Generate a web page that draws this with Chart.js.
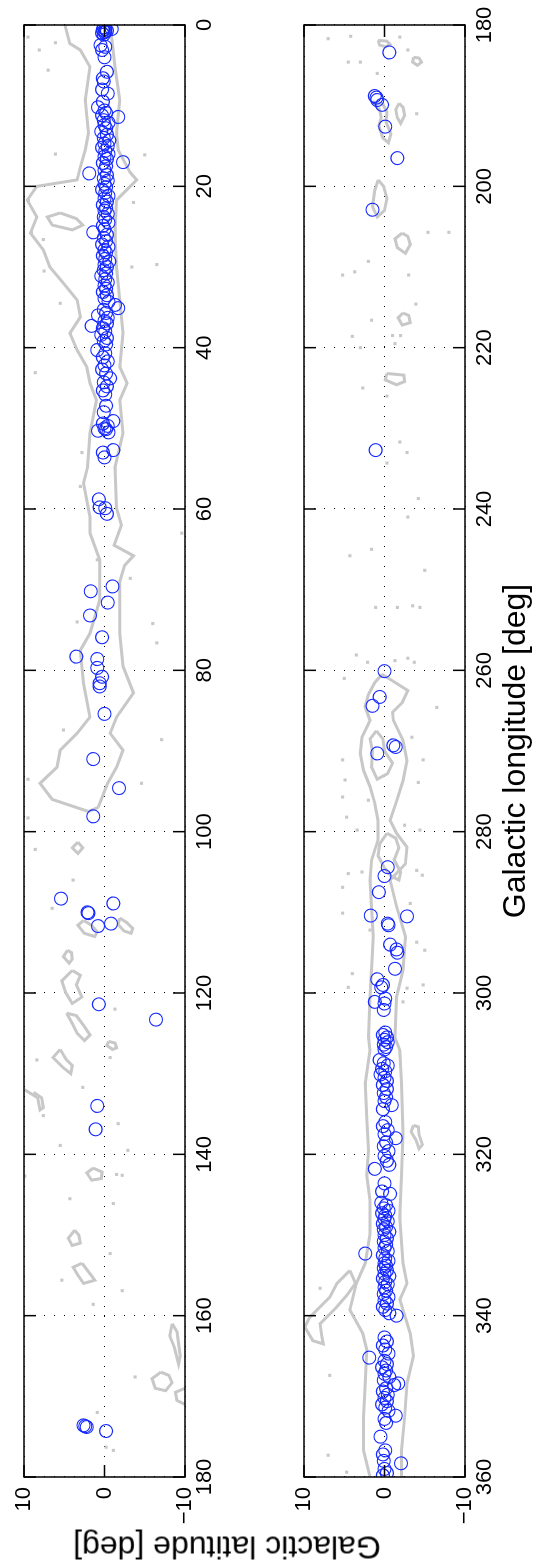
<!DOCTYPE html>
<html>
<head>
<meta charset="utf-8">
<script src="https://cdn.jsdelivr.net/npm/chart.js@4.4.1/dist/chart.umd.min.js"></script>
<style>
  html, body { margin: 0; padding: 0; background: #fff; overflow: hidden; width: 549px; height: 1567px; }
  #page {
    position: absolute; left: 0; top: 0; width: 1567px; height: 549px;
    transform-origin: 0 0; transform: translate(0, 1567px) rotate(-90deg);
    font-family: "Liberation Sans", Arial, Helvetica, sans-serif;
  }
  #box1 { position: absolute; left: 0; top: 0; }
  #box2 { position: absolute; left: 0; top: 250px; }
  #ylab {
    position: absolute; left: 20px; top: 227px; white-space: nowrap;
    font-size: 32px; color: #000;
    transform: translate(-50%, -50%) rotate(-90deg);
  }
</style>
</head>
<body>
<div id="page">
  <canvas id="box1" width="1567" height="250"></canvas>
  <canvas id="box2" width="1567" height="299"></canvas>
  <div id="ylab">Galactic latitude [deg]</div>
</div>
<script>
// tick labels
const latTicks = [-10, 0, 10];
const lonTicksA = [0, 20, 40, 60, 80, 100, 120, 140, 160, 180];
const lonTicksB = [180, 200, 220, 240, 260, 280, 300, 320, 340, 360];

// blue circles, [longitude, latitude]
const clumpsA = [
  [0.3,0.1],[0.5,-0.1],[0.6,0.2],[0.7,-0.3],[0.9,0.0],[0.5,-0.9],[1.0,0.3],[0.8,-0.1],[1.2,0.1],
  [2.5,0.5],[2.7,-0.1],[3.1,0.3],[4.0,0.0],[5.8,-0.3],[6.6,0.2],[7.0,0.1],[8.0,0.3],[8.5,-0.4],
  [9.5,0.2],[10.2,0.8],[10.6,0.0],[10.9,-0.2],[11.2,0.3],[11.4,-1.7],[11.8,0.1],[12.1,-0.5],
  [12.4,0.0],[12.8,-0.2],[13.2,0.4],[13.6,-0.3],[14.0,0.1],[14.3,-0.6],[14.7,0.0],[15.0,-0.4],
  [15.2,0.3],[15.6,-0.1],[16.0,-0.5],[16.3,0.0],[16.6,-0.3],[17.0,-2.3],[17.1,0.2],[17.5,-0.2],
  [18.0,0.0],[18.4,1.9],[18.6,-0.3],[19.0,0.1],[19.3,-0.4],[19.7,0.0],[20.1,-0.2],[20.4,0.3],
  [20.8,-0.1],[21.2,-0.5],[21.5,0.0],[21.9,-0.3],[22.3,0.2],[22.7,-0.2],[23.0,0.0],[23.4,-0.4],
  [23.8,0.1],[24.1,-0.1],[24.5,-0.5],[24.9,0.2],[25.3,0.0],[25.7,1.4],[26.0,-0.3],[26.4,0.1],
  [26.8,-0.2],[27.2,0.3],[27.5,-0.5],[27.9,0.0],[28.2,-0.2],[28.6,0.2],[29.0,-0.1],[29.3,-0.6],
  [29.7,0.0],[30.0,-0.3],[30.4,0.1],[30.8,-0.2],[31.1,0.4],[31.5,-0.1],[31.9,-0.4],[32.3,0.0],
  [32.7,-0.2],[33.1,0.2],[33.5,-0.3],[33.9,0.0],[34.3,-0.5],[34.7,-1.3],[35.1,-1.7],[35.3,0.1],
  [35.7,-0.2],[36.0,0.8],[36.3,-0.4],[36.7,0.0],[37.0,-0.3],[37.3,1.6],[37.6,0.2],[38.0,-0.1],
  [38.4,0.4],[38.8,-0.3],[39.2,0.1],[39.6,-0.2],[40.3,0.9],[40.7,-0.1],[41.2,0.2],[41.7,-0.4],
  [42.2,0.0],[42.7,0.3],[43.2,-0.2],[43.8,-0.7],[44.3,0.1],[44.8,-0.3],[45.3,0.2],[45.8,-0.1],
  [47.2,-0.2],[48.0,0.1],[49.1,-1.1],[49.4,0.2],[49.7,-0.4],[50.0,0.0],[50.3,0.8],[50.5,-0.5],
  [50.1,-0.2],[52.7,-1.1],[53.0,0.2],[53.6,0.0],[58.8,0.7],[59.8,0.6],[59.9,-0.1],[60.6,-0.3],
  [69.6,-1.0],[70.2,1.7],[71.6,-0.4],[73.2,1.8],[75.9,0.3],[78.3,3.5],[78.6,0.9],[79.7,0.9],
  [80.8,0.3],[81.6,0.6],[82.0,0.6],[85.4,0.0],[91.0,1.4],[94.6,-1.8],[98.1,1.4],[108.3,5.4],
  [108.9,-1.1],[110.0,2.1],[110.1,2.0],[111.7,0.8],[111.4,-0.8],[121.4,0.7],[123.3,-6.4],
  [134.0,0.9],[136.9,1.1],[173.6,2.6],[173.7,2.4],[173.8,2.2],[174.3,-0.2]
];
const clumpsB = [
  [183.4,-0.6],[188.8,1.2],[189.0,1.0],[189.3,0.9],[189.9,0.3],[192.6,-0.1],[196.5,-1.6],
  [202.9,1.5],[232.7,1.1],[260.1,0.0],[263.3,0.6],[264.4,1.5],[269.3,-1.1],[269.5,-1.4],
  [270.3,0.9],[284.4,-0.4],[285.5,0.0],[287.5,0.7],[290.4,1.7],[290.5,-2.8],[291.4,-0.4],
  [291.6,-0.5],[294.0,-0.7],[294.6,-1.5],[295.0,-1.6],[297.0,-1.3],[298.3,0.9],[299.0,0.2],
  [299.3,0.4],[301.1,1.2],[300.7,-0.1],[301.3,0.0],[302.1,0.1],
  [304.9,-0.1],[305.2,0.2],[305.5,-0.3],[305.8,0.0],[306.1,-0.4],[306.4,0.1],[306.7,-0.2],[307.0,0.0],
  [308.3,0.6],[308.7,0.1],[309.0,-0.4],[309.4,0.3],[309.7,-0.1],[310.1,0.5],[310.5,0.0],[310.9,-0.3],
  [311.4,0.2],[311.9,-0.3],[312.4,0.1],[312.9,-0.2],[313.4,0.0],[313.9,-0.9],[314.4,0.2],
  [316.0,-0.1],[316.5,0.2],[317.0,-0.4],[317.5,0.0],[318.0,-1.4],[318.5,-0.2],[319.0,0.1],
  [319.6,-0.5],[320.2,0.0],[320.8,-0.3],[321.3,-0.6],[321.8,1.2],[323.6,0.0],[324.6,0.3],[324.9,-0.7],
  [326.0,0.4],[326.3,-0.2],[326.7,0.1],[327.0,-0.5],[327.3,0.3],[327.6,-0.1],[328.0,0.0],
  [328.3,-0.4],[328.6,0.2],[329.0,-0.2],[329.3,0.1],[329.6,-0.6],[330.0,0.0],
  [330.4,-0.3],[330.8,0.1],[331.2,-0.2],[331.6,0.0],[332.0,-0.4],[332.3,2.4],[332.5,0.2],
  [332.9,-0.1],[333.2,-0.5],[333.5,0.0],[333.8,-0.2],[334.1,0.1],[334.4,-0.3],[334.8,0.0],
  [335.1,-0.6],[335.4,0.2],[335.8,-0.1],[336.1,-0.4],[336.5,0.0],[336.9,-0.2],[337.3,0.1],
  [337.7,-0.5],[338.1,0.0],[338.5,-0.3],[338.9,0.2],[339.3,-0.1],[339.7,-0.6],[340.0,-1.5],
  [342.7,0.0],[343.2,-0.3],[343.7,0.2],[344.2,-0.1],[344.7,-0.5],[345.2,1.9],[345.6,0.0],
  [346.0,-0.3],[346.4,0.3],[346.8,-0.2],[347.2,0.0],[347.6,-0.6],[348.0,0.1],[348.4,-1.7],
  [348.6,-1.2],[349.0,-0.2],[349.4,0.2],[349.8,-0.4],[350.2,0.0],[350.6,-0.3],[351.0,0.3],
  [351.4,-0.1],[351.8,-0.5],[352.4,-1.4],[352.8,0.0],[353.3,-0.2],[355.0,0.5],[356.7,-0.1],
  [357.2,0.2],[358.0,0.1],[358.3,-2.05],[359.0,0.0],[359.5,-0.3],[359.8,0.2]
];

// small grey specks
const specksA = [
  [1.5,9.5],[2.2,6.1],[3.1,8.1],[5.6,7.0],[16.0,6.1],[16.1,-5.0],[29.7,-6.5],[30.0,-3.4],
  [26.6,7.6],[30.5,7.5],[34.5,5.5],[43.1,8.6],[22.0,-3.6],[53.0,2.8],[57.2,3.0],[63.0,-9.6],
  [66.3,0.9],[68.6,-3.2],[74.0,3.4],[74.2,-6.0],[76.6,-6.5],[87.4,5.1],[88.6,-7.1],[93.5,9.5],
  [94.0,-4.6],[98.3,9.5],[102.2,8.6],[106.0,3.9],[109.5,6.5],[122.0,-1.3],[128.0,-0.7],
  [128.3,8.4],[131.7,2.7],[136.2,-1.7],[135.2,7.6],[138.9,5.5],[139.5,-2.9],[142.6,-2.2],
  [145.5,4.3],[146.1,-1.1],[152.3,-0.7],[155.6,5.3],[156.9,-2.2],[158.6,1.4],[167.6,-3.8],
  [172.0,0.9],[176.3,-0.2],[176.7,-1.1],[142.5,-1.5],[142.7,9.9]
];
const specksB = [
  [181.7,7.0],[181.4,4.2],[181.5,-1.9],[183.1,-2.9],[184.6,4.5],[184.6,3.0],[186.0,0.9],
  [191.0,-4.0],[205.7,-8.0],[205.7,-5.4],[209.3,2.0],[210.6,3.7],[211.0,5.2],[211.0,-3.0],
  [214.6,-3.9],[216.6,1.6],[218.6,4.0],[218.5,-1.0],[218.5,-2.0],[219.5,-1.3],[220.0,3.0],
  [225.0,2.7],[226.0,-0.3],[231.7,-1.9],[233.0,-2.8],[234.3,-0.3],[238.7,-4.2],[241.0,-2.9],
  [245.0,1.6],[245.8,4.3],[247.6,-5.0],[252.2,1.1],[252.2,-1.6],[252.2,-4.4],[252.0,-3.5],
  [258.5,-2.9],[259.0,-3.7],[258.8,-1.3],[259.0,2.1],[258.1,3.5],[261.0,5.0],[264.6,-6.5],
  [271.1,5.2],[273.6,4.9],[275.7,5.2],[278.2,4.7],[279.8,3.4],[276.1,2.0],[279.2,-2.5],
  [279.8,-4.4],[271.1,-4.8],[273.9,-4.2],[268.3,-3.4],[286.9,5.2],[290.1,5.2],[285.2,4.5],
  [285.0,2.8],[292.2,1.8],[284.8,-4.0],[285.4,-4.7],[288.9,-3.2],[294.7,-5.0],[293.7,-4.0],
  [297.6,4.0],[299.3,4.5],[299.4,-2.8],[299.0,-4.8],[301.1,-2.3],[336.6,8.0],[347.4,6.8],
  [357.3,7.0],[359.4,4.7]
];

// grey contour lines, [longitude, latitude]
const edgeUpA = [
  [0,4.9],[2.3,4.3],[3.1,3.0],[5.2,1.8],[9.3,2.4],[13.4,2.0],[15.5,2.4],[17.6,3.0],[19.2,3.4],
  [20.0,8.4],[21.7,9.6],[23.8,8.4],[25.8,9.2],[27.9,7.6],[30.0,6.8],[32.0,5.1],[34.1,3.4],
  [36.2,3.0],[38.2,4.3],[40.3,3.4],[42.4,2.2],[44.4,1.8],[46.5,1.0],[50.6,1.8],[54.8,2.1],
  [56.8,2.6],[61.0,1.8],[63.0,1.8],[66.3,0.6],[71.3,0.6],[75.4,1.8],[77.5,3.0],[81.6,2.6],
  [85.8,1.8],[87.8,3.4],[89.9,5.5],[92.0,5.9],[94.0,8.0],[96.0,6.5],[97.5,2.0],[97.0,0.8]
];
const edgeLowA = [
  [0,-0.7],[5.2,-1.3],[9.3,-1.9],[13.4,-1.5],[15.5,-1.7],[18.3,-3.2],[19.2,-4.0],[20.2,-3.0],
  [21.7,-1.5],[25.8,-1.3],[30.0,-1.5],[34.1,-1.9],[38.2,-2.3],[42.4,-1.9],[44.4,-2.8],[46.5,-1.9],
  [50.6,-2.3],[54.8,-1.3],[59.9,-1.5],[62.0,-2.1],[64.5,-1.2],[65.8,-3.6],[67.0,-2.5],[69.0,-1.9],
  [75.4,-1.9],[79.5,-2.3],[82.8,-3.6],[85.8,-1.5],[87.8,-0.7],[89.9,-2.3],[92.0,-1.5],[94.0,-0.4],
  [97.0,0.8]
];
const blobsA = [
  [[23.3,5.5],[23.8,7.1],[24.8,6.5],[25.4,4.0],[24.8,2.7],[24.0,3.5],[23.3,5.5]],
  [[101.3,3.3],[102.0,4.0],[102.7,3.3],[102.0,2.7],[101.3,3.3]],
  [[110.7,-1.9],[111.5,-1.7],[112.3,-2.4],[112.6,-3.3],[112.0,-3.5],[111.3,-2.8],[110.7,-1.9]],
  [[111.0,2.6],[111.6,3.3],[112.6,2.5],[113.0,1.2],[112.4,0.9],[111.6,1.6],[111.0,2.6]],
  [[114.7,4.6],[115.5,5.1],[116.3,4.4],[115.8,4.0],[115.0,4.1],[114.7,4.6]],
  [[117.2,4.0],[118.5,5.3],[120.0,4.8],[121.3,4.0],[120.5,2.8],[119.0,3.5],[117.8,3.0],[117.2,4.0]],
  [[122.5,4.7],[123.8,4.0],[125.0,3.4],[125.9,2.5],[125.2,1.8],[124.0,2.6],[122.8,3.5],[122.5,4.7]],
  [[127.0,5.5],[128.0,6.4],[129.2,5.2],[130.0,4.2],[129.0,4.0],[128.2,4.8],[127.0,5.5]],
  [[132.0,9.9],[133.0,8.3],[134.5,8.0],[134.2,7.6],[133.0,7.8],[132.3,8.8]],
  [[126.0,-0.5],[126.5,-0.3],[127.0,-1.0],[126.8,-1.5],[126.2,-1.3],[126.0,-0.5]],
  [[141.7,1.4],[142.3,2.2],[143.2,1.6],[143.0,0.4],[142.2,0.3],[141.7,1.4]],
  [[149.4,3.7],[150.4,4.5],[151.3,4.0],[151.0,3.0],[150.0,3.2],[149.4,3.7]],
  [[153.5,2.8],[154.0,3.9],[155.0,3.3],[156.0,2.6],[155.6,1.2],[154.8,1.8],[153.5,2.8]],
  [[167.0,-7.0],[167.8,-5.9],[169.0,-6.3],[169.3,-7.6],[168.3,-8.4],[167.4,-8.0],[167.0,-7.0]],
  [[161.0,-8.4],[162.5,-8.1],[164.0,-8.7],[166.0,-9.2],[165.0,-9.4],[162.0,-9.0],[161.0,-8.4]],
  [[169.0,-10],[169.5,-8.8],[170.5,-9.0],[171.0,-10]]
];
const edgeUpB = [
  [260.5,0.3],[261.5,1.2],[263.0,2.0],[264.5,2.4],[266.2,1.8],[268.3,2.8],[270.3,3.0],[272.4,2.6],
  [274.4,1.8],[276.5,1.2],[278.6,0.8],[281.0,0.8],[283.5,1.6],[286.0,1.8],[289.3,1.6],[293.0,1.4],
  [297.2,1.6],[300.5,1.8],[305.5,2.0],[307.1,1.8],[311.2,2.4],[315.4,2.2],[319.5,2.0],[322.6,2.2],
  [325.7,1.8],[329.9,1.8],[333.5,2.4],[336.0,3.5],[339.3,4.3],[342.2,2.7],[344.2,2.2],[348.4,2.4],
  [352.6,2.6],[356.7,2.6],[360.0,1.8]
];
const edgeLowB = [
  [260.5,0.3],[261.3,-1.0],[262.5,-2.9],[264.0,-2.2],[265.2,-1.0],[266.2,-1.1],[268.7,-2.3],
  [271.2,-2.8],[273.7,-2.3],[276.2,-1.5],[278.6,-0.7],[280.2,-1.5],[281.9,-2.8],[284.0,-2.6],
  [286.0,-0.7],[289.3,-1.5],[293.0,-2.6],[297.2,-2.3],[300.5,-1.5],[305.5,-1.3],[307.1,-1.9],
  [311.2,-2.1],[317.4,-2.3],[322.6,-2.1],[327.8,-1.9],[333.5,-2.3],[336.0,-2.8],[338.0,-1.9],
  [342.2,-3.2],[345.0,-3.6],[348.4,-2.8],[352.6,-2.5],[356.7,-2.1],[360.0,-2.1]
];
const blobsB = [
  [[181.9,0.8],[182.5,0.6],[182.7,-0.2],[182.4,-0.7],[182.0,-0.3],[181.9,0.8]],
  [[184.0,-3.6],[184.6,-3.5],[185.0,-4.1],[184.6,-4.6],[184.1,-4.3],[184.0,-3.6]],
  [[189.5,1.5],[190.5,0.6],[191.5,0.4],[192.5,0.7],[194.0,0.2],[194.6,-0.5],[193.5,-0.8],
   [192.0,-0.2],[190.8,-0.3],[189.8,0.2],[189.5,1.5]],
  [[189.7,-1.8],[190.5,-1.4],[191.5,-1.6],[192.2,-2.0],[191.2,-2.5],[190.2,-2.3],[189.7,-1.8]],
  [[199.2,0.8],[200.5,1.2],[202.5,1.5],[203.8,0.9],[203.0,0.0],[201.5,-0.3],[200.0,0.1],[199.2,0.8]],
  [[205.8,-2.2],[206.5,-1.3],[207.6,-1.6],[208.3,-2.6],[207.2,-3.2],[206.2,-2.9],[205.8,-2.2]],
  [[215.7,-2.3],[216.3,-1.7],[217.2,-2.2],[216.9,-3.2],[216.0,-3.0],[215.7,-2.3]],
  [[223.2,-0.3],[223.4,-2.4],[224.2,-2.5],[224.6,-1.5],[224.0,-0.1],[223.2,-0.3]],
  [[267.5,1.0],[268.5,0.2],[270.0,0.0],[271.5,-1.0],[272.8,-0.4],[273.5,0.9],[272.0,1.6],
   [270.0,1.5],[268.5,1.8],[267.5,1.0]],
  [[280.2,-0.3],[281.5,0.6],[283.0,0.8],[284.5,0.0],[285.5,-0.8],[286.0,-1.8],[285.0,-2.0],
   [283.5,-1.2],[282.0,-1.8],[280.8,-1.4],[280.2,-0.3]],
  [[316.4,-3.6],[317.2,-3.3],[318.2,-3.9],[319.3,-4.3],[318.8,-4.7],[317.6,-4.3],[316.6,-4.2],[316.4,-3.6]],
  [[334.4,4.3],[336.0,5.9],[337.7,6.8],[340.2,9.3],[341.4,9.9],[343.1,8.9],[343.5,7.6],[342.5,7.8],
   [341.0,8.0],[339.0,6.0],[337.5,4.7],[336.0,3.6],[334.4,4.3]]
];

const BLUE = 'rgb(20,40,255)';
const GREY = '#c8c8c8';
const FONT = '"Liberation Sans", Arial, Helvetica, sans-serif';
const TICK = 12;

function pts(list) {
  return list.map(p => ({ x: p[0], y: p[1] }));
}

function fmt(v) {
  return v < 0 ? '\u2212' + Math.abs(v) : String(v);
}

function buildDatasets(clumps, specks, lines) {
  const ds = [{
    data: pts(clumps),
    pointStyle: 'circle',
    pointRadius: 6.5,
    borderColor: BLUE,
    borderWidth: 1.1,
    backgroundColor: 'rgba(0,0,0,0)',
    showLine: false
  }, {
    data: pts(specks),
    pointStyle: 'rect',
    pointRadius: 2.2,
    backgroundColor: GREY,
    borderColor: GREY,
    borderWidth: 0,
    showLine: false
  }];
  lines.forEach(l => {
    ds.push({
      data: pts(l),
      showLine: true,
      pointRadius: 0,
      borderColor: GREY,
      borderWidth: 3,
      fill: false,
      tension: 0
    });
  });
  return ds;
}

// box and inward tick marks on all four sides
const frame = {
  id: 'frame',
  afterDatasetsDraw(chart) {
    const { ctx, chartArea: a, scales: { x, y } } = chart;
    ctx.save();
    ctx.strokeStyle = '#000';
    ctx.lineWidth = 1.5;
    ctx.strokeRect(a.left, a.top, a.right - a.left, a.bottom - a.top);
    ctx.beginPath();
    x.ticks.forEach(t => {
      const p = x.getPixelForValue(t.value);
      ctx.moveTo(p, a.top); ctx.lineTo(p, a.top + TICK);
      ctx.moveTo(p, a.bottom); ctx.lineTo(p, a.bottom - TICK);
    });
    y.ticks.forEach(t => {
      const p = y.getPixelForValue(t.value);
      ctx.moveTo(a.left, p); ctx.lineTo(a.left + TICK, p);
      ctx.moveTo(a.right, p); ctx.lineTo(a.right - TICK, p);
    });
    ctx.stroke();
    ctx.restore();
  }
};

function makeChart(id, opts) {
  const ctx = document.getElementById(id).getContext('2d');
  return new Chart(ctx, {
    type: 'scatter',
    data: { datasets: buildDatasets(opts.clumps, opts.specks, opts.lines) },
    options: {
      responsive: false,
      animation: false,
      events: [],
      layout: { padding: { left: 0, right: 25, top: opts.top, bottom: 0 } },
      plugins: { legend: { display: false }, tooltip: { enabled: false } },
      scales: {
        x: {
          type: 'linear',
          reverse: true,
          min: opts.lonTicks[0],
          max: opts.lonTicks[opts.lonTicks.length - 1],
          afterBuildTicks: s => { s.ticks = opts.lonTicks.map(v => ({ value: v })); },
          afterFit: s => { s.height = opts.xHeight; },
          grid: { color: '#000', lineWidth: 1, drawTicks: false },
          border: { display: false, dash: [1, 9] },
          ticks: {
            color: '#000', padding: 7, autoSkip: false, maxRotation: 0,
            font: { family: FONT, size: 22 },
            callback: v => fmt(v)
          },
          title: {
            display: !!opts.xTitle,
            text: opts.xTitle || '',
            color: '#000',
            font: { family: FONT, size: 32 },
            padding: { top: 0, bottom: 14 }
          }
        },
        y: {
          type: 'linear',
          min: -10,
          max: 10,
          afterBuildTicks: s => { s.ticks = latTicks.map(v => ({ value: v })); },
          afterFit: s => { s.width = 90; },
          grid: { color: '#000', lineWidth: 1, drawTicks: false },
          border: { display: false, dash: [1, 9] },
          ticks: {
            color: '#000', padding: 10,
            font: { family: FONT, size: 22 },
            callback: v => fmt(v)
          }
        }
      }
    },
    plugins: [frame]
  });
}

makeChart('box1', {
  clumps: clumpsA, specks: specksA, lines: [edgeUpA, edgeLowA].concat(blobsA),
  lonTicks: lonTicksA, top: 24, xHeight: 65
});
makeChart('box2', {
  clumps: clumpsB, specks: specksB, lines: [edgeUpB, edgeLowB].concat(blobsB),
  lonTicks: lonTicksB, top: 54, xHeight: 84, xTitle: 'Galactic longitude [deg]'
});
</script>
</body>
</html>
